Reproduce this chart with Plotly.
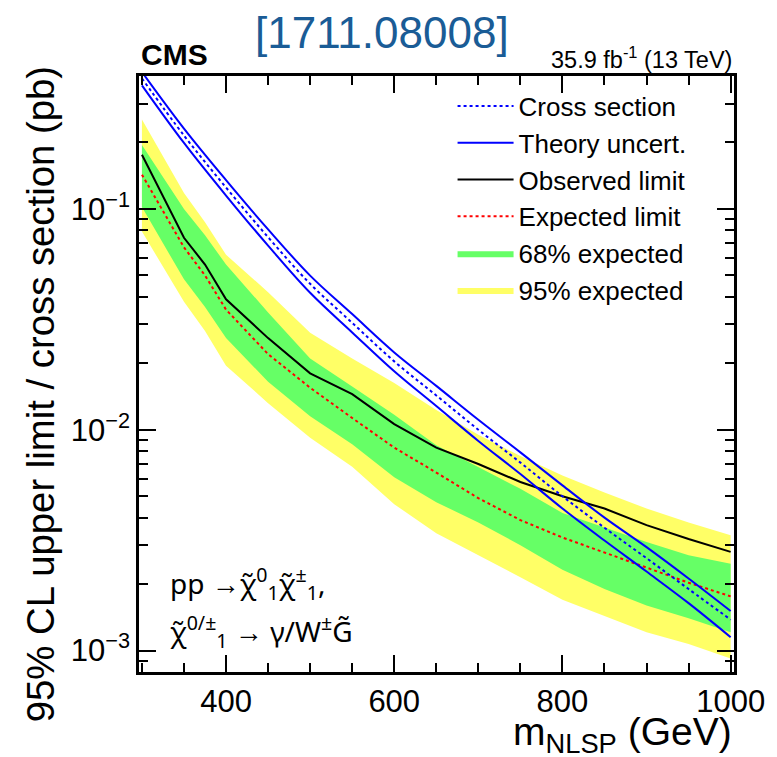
import plotly.graph_objects as go

# NLSP mass points (GeV)
mass = [300, 350, 375, 400, 450, 500, 550, 600, 650, 700, 750, 800, 850, 900, 950, 1000]

# limits (pb)
observed = [0.176, 0.074, 0.056, 0.039, 0.026, 0.018, 0.0145, 0.0106, 0.0083, 0.0070, 0.0058, 0.0050, 0.0044, 0.0037, 0.0032, 0.0028]
expected = [0.143, 0.067, 0.050, 0.035, 0.022, 0.0155, 0.0113, 0.0083, 0.0064, 0.0049, 0.0039, 0.00325, 0.00278, 0.00237, 0.00203, 0.00176]
exp_1s_lo = [0.102, 0.048, 0.036, 0.026, 0.0165, 0.0115, 0.0086, 0.0061, 0.0047, 0.0038, 0.0030, 0.00232, 0.00190, 0.0016, 0.0014, 0.00121]
exp_1s_hi = [0.195, 0.100, 0.076, 0.056, 0.034, 0.021, 0.0157, 0.0117, 0.0085, 0.0068, 0.0054, 0.0042, 0.0036, 0.0031, 0.0027, 0.00247]
exp_2s_lo = [0.079, 0.038, 0.028, 0.0195, 0.0132, 0.0092, 0.0068, 0.0046, 0.0034, 0.0027, 0.00215, 0.00170, 0.00143, 0.00121, 0.00107, 0.00092]
exp_2s_hi = [0.254, 0.118, 0.087, 0.062, 0.042, 0.0275, 0.021, 0.0163, 0.0123, 0.0095, 0.0076, 0.0062, 0.0052, 0.0044, 0.0038, 0.00333]

# theory cross section (pb)
xs_mass = [300, 350, 400, 450, 500, 550, 600, 650, 700, 750, 800, 850, 900, 950, 1000]
xsec = [0.39, 0.215, 0.125, 0.0745, 0.0458, 0.0305, 0.0204, 0.0143, 0.0100, 0.0071, 0.0050, 0.0036, 0.00262, 0.00190, 0.00138]
xsec_up = [0.417, 0.231, 0.135, 0.0808, 0.0499, 0.0334, 0.0224, 0.0158, 0.0111, 0.0079, 0.0056, 0.0040, 0.00294, 0.00212, 0.00151]
xsec_dn = [0.363, 0.199, 0.115, 0.0682, 0.0417, 0.0276, 0.0184, 0.0128, 0.0089, 0.0063, 0.0044, 0.00315, 0.00228, 0.00164, 0.00115]

FONT = "Liberation Sans, Arial, sans-serif"

fig = go.Figure()

fig.add_trace(go.Scatter(x=mass + mass[::-1], y=exp_2s_hi + exp_2s_lo[::-1], fill="toself",
                         fillcolor="#ffff66", line=dict(width=0), mode="lines",
                         name="95% expected", legendrank=6, hoverinfo="skip"))
fig.add_trace(go.Scatter(x=mass + mass[::-1], y=exp_1s_hi + exp_1s_lo[::-1], fill="toself",
                         fillcolor="#66ff66", line=dict(width=0), mode="lines",
                         name="68% expected", legendrank=5, hoverinfo="skip"))
fig.add_trace(go.Scatter(x=mass, y=expected, mode="lines", name="Expected limit",
                         line=dict(color="#ff0000", width=2, dash="3px,3px"), legendrank=4))
fig.add_trace(go.Scatter(x=mass, y=observed, mode="lines", name="Observed limit",
                         line=dict(color="black", width=2), legendrank=3))
fig.add_trace(go.Scatter(x=xs_mass, y=xsec_up, mode="lines", name="Theory uncert.",
                         line=dict(color="#0000ff", width=2, shape="spline"), legendrank=2))
fig.add_trace(go.Scatter(x=xs_mass, y=xsec_dn, mode="lines", showlegend=False,
                         line=dict(color="#0000ff", width=2, shape="spline")))
fig.add_trace(go.Scatter(x=xs_mass, y=xsec, mode="lines", name="Cross section",
                         line=dict(color="#0000ff", width=2, dash="3px,3px", shape="spline"), legendrank=1))

minor_y = [m * 10.0 ** e for e in (-4, -3, -2, -1) for m in range(2, 10)]
minor_y = [v for v in minor_y if 7.9e-4 < v < 0.41]

fig.update_xaxes(range=[296.5, 1004], tickvals=[400, 600, 800, 1000], ticks="inside", ticklen=17,
                 tickwidth=1.5, tickcolor="black", showline=True, linecolor="black", linewidth=2.5,
                 mirror="allticks", showgrid=False, zeroline=False,
                 tickfont=dict(size=31, color="black", family=FONT),
                 minor=dict(dtick=50, tick0=300, ticks="inside", ticklen=9, tickwidth=1.5, tickcolor="black"))
fig.update_yaxes(type="log", range=[-3.097, -0.398], tickvals=[1e-3, 1e-2, 1e-1],
                 ticktext=["10<sup>\u22123</sup>", "10<sup>\u22122</sup>", "10<sup>\u22121</sup>"],
                 ticks="inside", ticklen=17, tickwidth=1.5, tickcolor="black", showline=True,
                 linecolor="black", linewidth=2.5, mirror="allticks", showgrid=False, zeroline=False,
                 tickfont=dict(size=31, color="black", family=FONT),
                 minor=dict(tickvals=minor_y, ticks="inside", ticklen=9, tickwidth=1.5, tickcolor="black"))

# page body has an 8px margin, so the figure is 8px smaller than the window
fig.update_layout(
    width=769, height=749,
    margin=dict(l=131, r=40, t=68, b=85),
    paper_bgcolor="white", plot_bgcolor="white",
    font=dict(family=FONT, color="black"),
    legend=dict(x=0.527, y=0.989, xanchor="left", yanchor="top", bgcolor="rgba(0,0,0,0)",
                font=dict(size=26, family=FONT), itemwidth=56, tracegroupgap=0),
    showlegend=True,
)

fig.add_annotation(text="[1711.08008]", xref="paper", yref="paper", x=0.408, y=1, yshift=44,
                   showarrow=False, xanchor="center", yanchor="middle",
                   font=dict(size=44, color="#1a5c96", family=FONT))
fig.add_annotation(text="<b>CMS</b>", xref="paper", yref="paper", x=0, y=1, yshift=3,
                   showarrow=False, xanchor="left", yanchor="bottom", font=dict(size=30, family=FONT))
fig.add_annotation(text="35.9 fb<sup>-1</sup> (13 TeV)", xref="paper", yref="paper", x=1, y=1, yshift=1,
                   showarrow=False, xanchor="right", yanchor="bottom", font=dict(size=23.5, family=FONT))
fig.add_annotation(text="m<sub>NLSP</sub> (GeV)", xref="paper", yref="paper", x=1, y=0, yshift=-62,
                   showarrow=False, xanchor="right", yanchor="middle", font=dict(size=39, family=FONT))
fig.add_annotation(text="95% CL upper limit / cross section (pb)", xref="paper", yref="paper",
                   x=0, xshift=-99, y=0.466, textangle=-90, showarrow=False,
                   xanchor="center", yanchor="middle", font=dict(size=38.3, family=FONT))
fig.add_annotation(text="pp \u2192\u03c7\u0303<sup>0</sup><sub>1</sub>\u03c7\u0303<sup>\u00b1</sup><sub>1</sub>,",
                   xref="paper", yref="paper", x=0.048, y=0.149, showarrow=False,
                   xanchor="left", yanchor="middle", font=dict(size=28, family="Noto Sans"))
fig.add_annotation(text="\u03c7\u0303<sup>0/\u00b1</sup><sub>1</sub> \u2192 \u03b3/W<sup>\u00b1</sup>G\u0303",
                   xref="paper", yref="paper", x=0.048, y=0.068, showarrow=False,
                   xanchor="left", yanchor="middle", font=dict(size=28, family="Noto Sans"))

fig.write_html("out.html")
